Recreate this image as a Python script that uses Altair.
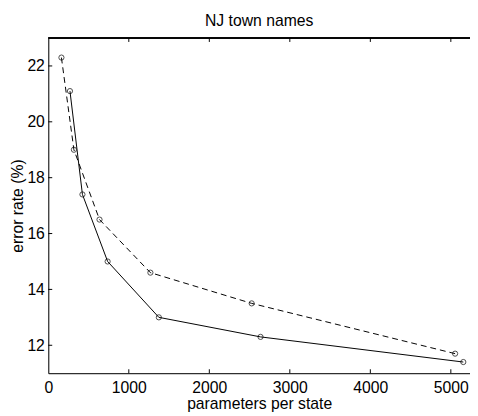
import altair as alt
import pandas as pd

dashed_x = [163, 318, 636, 1268, 2526, 5053]
dashed_y = [22.3, 19.0, 16.5, 14.6, 13.5, 11.7]
solid_x = [269, 424, 737, 1373, 2636, 5155]
solid_y = [21.1, 17.4, 15.0, 13.0, 12.3, 11.4]
x_ticks = [0, 1000, 2000, 3000, 4000, 5000]
y_ticks = [12, 14, 16, 18, 20, 22]

W, H = 429, 341
FONT = "Liberation Sans"
FS = 16

dashed = pd.DataFrame({"x": dashed_x, "y": dashed_y})
solid = pd.DataFrame({"x": solid_x, "y": solid_y})

xs = alt.Scale(domain=[0, 5238], nice=False, zero=False)
ys = alt.Scale(domain=[11, 23], nice=False, zero=False)

x_enc = alt.X("x:Q", scale=xs, title="parameters per state",
              axis=alt.Axis(values=x_ticks, format="d", grid=False, ticks=False, labelPadding=7,
                            titlePadding=0, domainColor="black", labelColor="black",
                            titleColor="black", labelFont=FONT, titleFont=FONT,
                            labelFontSize=FS, titleFontSize=FS, titleFontWeight="normal",
                            labelFlush=False))
y_enc = alt.Y("y:Q", scale=ys, title="error rate (%)",
              axis=alt.Axis(values=y_ticks, format="d", grid=False, ticks=False, labelPadding=4,
                            titlePadding=1, domainColor="black", labelColor="black",
                            titleColor="black", labelFont=FONT, titleFont=FONT,
                            labelFontSize=FS, titleFontSize=FS, titleFontWeight="normal",
                            labelFlush=False))

dash_line = alt.Chart(dashed).mark_line(color="black", strokeWidth=1, strokeDash=[6, 4]).encode(x=x_enc, y=y_enc)
dash_pts = alt.Chart(dashed).mark_point(shape="circle", filled=False, color="black", size=28, strokeWidth=1).encode(x="x:Q", y="y:Q")
solid_line = alt.Chart(solid).mark_line(color="black", strokeWidth=1).encode(x="x:Q", y="y:Q")
solid_pts = alt.Chart(solid).mark_point(shape="circle", filled=False, color="black", size=28, strokeWidth=1).encode(x="x:Q", y="y:Q")

xt = pd.DataFrame({"x": x_ticks[1:]})
yt = pd.DataFrame({"y": y_ticks})
xtick_bottom = alt.Chart(xt).mark_rule(color="black", strokeWidth=1).encode(x="x:Q", y=alt.value(H), y2=alt.value(H - 4))
xtick_top = alt.Chart(xt).mark_rule(color="black", strokeWidth=1).encode(x="x:Q", y=alt.value(0), y2=alt.value(4))
ytick_left = alt.Chart(yt).mark_rule(color="black", strokeWidth=1).encode(y="y:Q", x=alt.value(0), x2=alt.value(4))
top_border = alt.Chart(xt).mark_rule(color="black", strokeWidth=1).encode(x=alt.value(0), x2=alt.value(W), y=alt.value(0))

chart = alt.layer(
    dash_line, solid_line, dash_pts, solid_pts, xtick_bottom, xtick_top, ytick_left, top_border
).properties(
    width=W, height=H,
    title=alt.TitleParams("NJ town names", font=FONT, fontSize=FS, fontWeight="normal",
                          color="black", offset=9),
    autosize=alt.AutoSizeParams(type="none"),
    padding={"left": 41, "top": 27, "right": 0, "bottom": 40},
).configure_view(stroke=None).configure(background="white")

chart.save("out.html", embed_options={"renderer": "svg", "actions": False})
